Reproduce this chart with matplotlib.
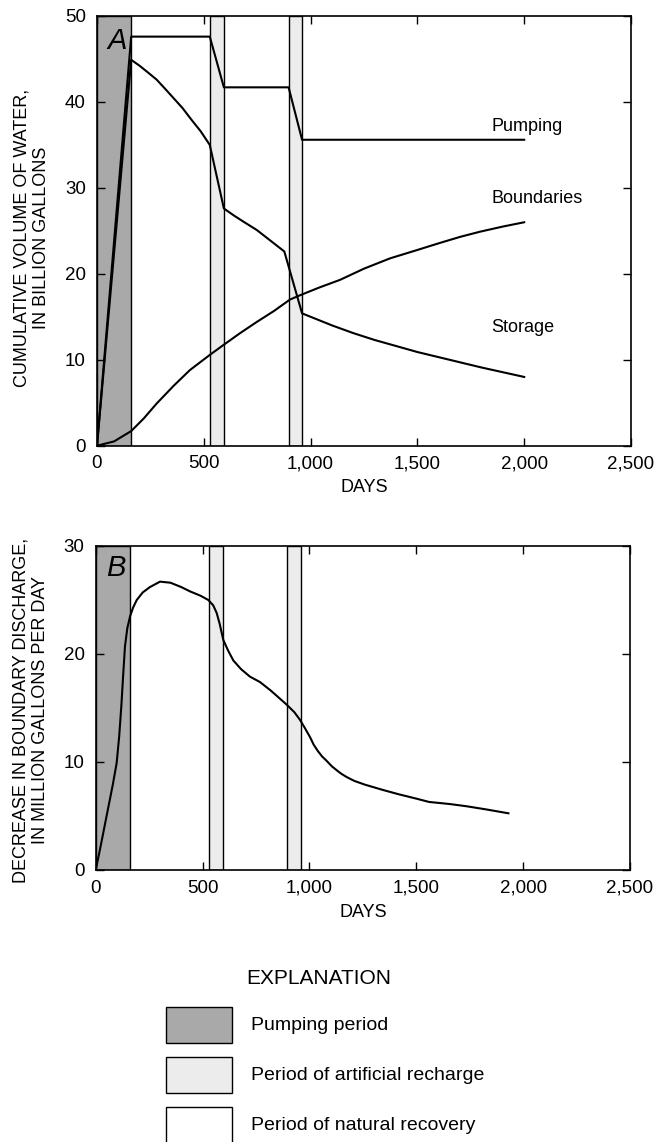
import matplotlib
matplotlib.use("Agg")
import matplotlib.pyplot as plt
from matplotlib.patches import Rectangle

plt.rcParams['font.family'] = ['Liberation Sans', 'DejaVu Sans']

# ---------------- data ----------------
pumping_period = (0, 160)
recharge_periods = [(528, 594), (897, 960)]

pump_days = [0, 160, 528, 594, 897, 960, 2000]
pump_vals = [0, 47.6, 47.6, 41.7, 41.7, 35.6, 35.6]

storage_days = [0, 160, 200, 240, 279, 320, 360, 400, 440, 485, 528, 594, 640, 690,
                748, 810, 877, 960, 1000, 1050, 1100, 1200, 1300, 1400, 1500, 1600,
                1700, 1800, 1900, 2000]
storage_vals = [0, 44.9, 44.2, 43.4, 42.6, 41.5, 40.4, 39.3, 38.0, 36.6, 35.0, 27.6,
                26.8, 26.0, 25.1, 23.9, 22.6, 15.4, 15.0, 14.5, 14.0, 13.1, 12.3, 11.6,
                10.9, 10.3, 9.7, 9.1, 8.55, 8.0]

bound_days = [0, 80, 160, 220, 279, 360, 435, 530, 591, 670, 748, 830, 903, 950,
              1040, 1138, 1250, 1372, 1490, 1606, 1700, 1793, 1900, 2000]
bound_vals = [0, 0.5, 1.7, 3.2, 4.9, 7.0, 8.8, 10.6, 11.7, 13.1, 14.4, 15.7, 17.0,
              17.5, 18.4, 19.3, 20.6, 21.8, 22.7, 23.6, 24.3, 24.9, 25.5, 26.0]

disch_days = [0, 20, 40, 60, 80, 98, 110, 120, 129, 137, 148, 161, 175, 192, 220,
              254, 301, 350, 400, 441, 490, 527, 550, 566, 580, 597, 620, 644, 680,
              722, 769, 820, 860, 894, 930, 956, 980, 1003, 1020, 1040, 1060, 1081,
              1105, 1130, 1150, 1175, 1210, 1260, 1346, 1420, 1502, 1560, 1611, 1660,
              1736, 1830, 1931]
disch_vals = [0, 1.9, 3.9, 5.9, 7.9, 9.9, 12.4, 15.2, 18.2, 20.7, 22.4, 23.5, 24.3,
              25.0, 25.7, 26.2, 26.7, 26.6, 26.2, 25.8, 25.4, 25.0, 24.5, 23.8, 22.8,
              21.3, 20.3, 19.4, 18.6, 17.9, 17.4, 16.6, 15.9, 15.3, 14.6, 13.9, 13.1,
              12.3, 11.6, 11.0, 10.5, 10.1, 9.6, 9.2, 8.9, 8.6, 8.25, 7.9, 7.4, 7.0,
              6.6, 6.3, 6.2, 6.1, 5.9, 5.6, 5.25]

xticks = [0, 500, 1000, 1500, 2000, 2500]
xticklabels = ['0', '500', '1,000', '1,500', '2,000', '2,500']
yticks_a = [0, 10, 20, 30, 40, 50]
yticks_b = [0, 10, 20, 30]

legend_labels = ['Pumping period', 'Period of artificial recharge', 'Period of natural recovery']

# ---------------- style ----------------
W, H = 656, 1142
fig = plt.figure(figsize=(W / 100, H / 100), dpi=100)
PUMP_COLOR = '#a9a9a9'
RECH_COLOR = '#ececec'
LW = 1.5
FS = 13
TFS = 13.5


def px_axes(l, t, r, b):
    return fig.add_axes([l / W, 1 - b / H, (r - l) / W, (b - t) / H])


def style_axes(ax, ymax, yticks):
    ax.set_xlim(0, 2500)
    ax.set_ylim(0, ymax)
    ax.set_xticks(xticks)
    ax.set_xticklabels(xticklabels)
    ax.set_yticks(yticks)
    ax.tick_params(direction='in', length=6, width=1, top=True, right=True,
                   labelsize=TFS, pad=7)
    ax.tick_params(axis='y', pad=8)
    for s in ax.spines.values():
        s.set_linewidth(1.2)
    ax.axvspan(*pumping_period, facecolor=PUMP_COLOR, edgecolor='black', lw=1.0, zorder=0)
    for r0, r1 in recharge_periods:
        ax.axvspan(r0, r1, facecolor=RECH_COLOR, edgecolor='black', lw=1.0, zorder=0)


# Panel A
axA = px_axes(97, 16, 631, 445.7)
style_axes(axA, 50, yticks_a)
axA.plot(pump_days, pump_vals, color='black', lw=LW)
axA.plot(storage_days, storage_vals, color='black', lw=LW)
axA.plot(bound_days, bound_vals, color='black', lw=LW)
axA.text(1845, 37.2, 'Pumping', fontsize=FS, va='center', ha='left')
axA.text(1845, 28.8, 'Boundaries', fontsize=FS, va='center', ha='left')
axA.text(1845, 13.8, 'Storage', fontsize=FS, va='center', ha='left')
axA.text(0.02, 0.975, 'A', transform=axA.transAxes, fontsize=21, style='italic',
         va='top', ha='left')
axA.set_xlabel('DAYS', fontsize=FS, labelpad=5)
fig.text(32 / W, 1 - 238 / H, 'CUMULATIVE VOLUME OF WATER,\nIN BILLION GALLONS',
         rotation=90, ha='center', va='center', fontsize=FS, multialignment='center',
         linespacing=1.2)

# Panel B
axB = px_axes(95.7, 546, 630, 870)
style_axes(axB, 30, yticks_b)
axB.plot(disch_days, disch_vals, color='black', lw=LW)
axB.text(0.02, 0.975, 'B', transform=axB.transAxes, fontsize=21, style='italic',
         va='top', ha='left')
axB.set_xlabel('DAYS', fontsize=FS, labelpad=5)
fig.text(31 / W, 1 - 710 / H, 'DECREASE IN BOUNDARY DISCHARGE,\nIN MILLION GALLONS PER DAY',
         rotation=90, ha='center', va='center', fontsize=FS, multialignment='center',
         linespacing=1.2)

# Explanation
fig.text(319 / W, 1 - 978 / H, 'EXPLANATION', ha='center', va='center', fontsize=15)
box_colors = [PUMP_COLOR, RECH_COLOR, 'white']
box_tops = [1007, 1057, 1107]
for lab, col, top in zip(legend_labels, box_colors, box_tops):
    fig.patches.append(Rectangle((166 / W, 1 - (top + 36) / H), 66 / W, 36 / H,
                                 transform=fig.transFigure, facecolor=col,
                                 edgecolor='black', lw=1.0))
    fig.text(251 / W, 1 - (top + 18) / H, lab, ha='left', va='center', fontsize=14)

fig.savefig('out.png', dpi=100)
